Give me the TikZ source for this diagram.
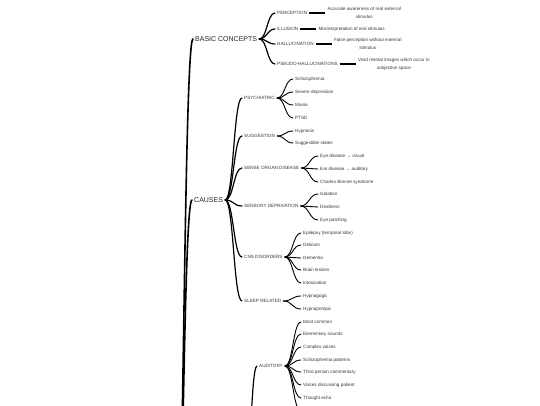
\documentclass[tikz,border=0pt]{standalone}
\usepackage{fontspec}
\setmainfont{Liberation Sans}
\usetikzlibrary{calc, positioning}

\begin{document}
\begin{tikzpicture}[
        x=1pt, y=-1pt,
        topic/.style={
            anchor=west,
            inner xsep=2pt,
            inner ysep=1pt,
            text=black!85,
            font=\fontsize{7}{8}\selectfont
        },
        sub/.style={
            anchor=west,
            inner xsep=2pt,
            inner ysep=1pt,
            text=black!78,
            font=\fontsize{4.6}{8}\selectfont
        },
        desc/.style={sub, align=center},
        brace/.style={to path={
            let \p1=(\tikztostart), \p2=(\tikztotarget) in
            .. controls ({(\x1+\x2)/2},\y1) and ({(\x1+\x2)/2},\y2) .. (\p2) \tikztonodes}
        },
        link/.style={draw=black, line cap=round, brace},
        toplink/.style={link, line width=1.6pt},
        midlink/.style={link, line width=1.2pt},
        leaflink/.style={link, line width=0.9pt},
        bar/.style={draw=black, line width=1.1pt}
    ]

    \useasboundingbox[fill=white] (0,0) rectangle (540,405);

    % Root and hidden parents (below the frame)
    \coordinate (root) at (174,640);
    \coordinate (kinds) at (243,520);

    % Main topics
    \node[topic] (basic) at (193,39) {BASIC CONCEPTS};
    \node[topic] (causes) at (192,200) {CAUSES};

    % Basic concepts
    \node[sub] (perception) at (275,13) {PERCEPTION};
    \node[sub] (illusion) at (275,29) {ILLUSION};
    \node[sub] (halluc) at (275,44) {HALLUCINATION};
    \node[sub] (pseudo) at (275,64) {PSEUDO-HALLUCINATIONS};

    \node[desc, right=16pt of perception] (perceptiondesc) {
        Accurate awareness of real external\\
        stimulus
    };
    \node[desc, right=16pt of illusion] (illusiondesc) {
        Misinterpretation of real stimulus
    };
    \node[desc, right=16pt of halluc] (hallucdesc) {
        False perception without external\\
        stimulus
    };
    \node[desc, right=16pt of pseudo] (pseudodesc) {
        Vivid mental images which occur in\\
        subjective space
    };

    % Causes
    \node[sub] (psych) at (242,98) {PSYCHIATRIC};
    \node[sub] (sugg) at (242,136) {SUGGESTION};
    \node[sub] (sense) at (242,168) {SENSE ORGAN DISEASE};
    \node[sub] (sensdep) at (242,206) {SENSORY DEPRIVATION};
    \node[sub] (cns) at (242,257) {CNS DISORDERS};
    \node[sub] (sleep) at (242,301) {SLEEP RELATED};

    \node[sub] (schizo) at (293,79) {Schizophrenia};
    \node[sub] (sevdep) at (293,92) {Severe depression};
    \node[sub] (mania) at (293,105) {Mania};
    \node[sub] (ptsd) at (293,118) {PTSD};

    \node[sub] (hypnosis) at (293,131) {Hypnosis};
    \node[sub] (suggstates) at (293,143) {Suggestible states};

    \node[sub] (eyedis) at (318,156) {Eye disease → visual};
    \node[sub] (eardis) at (318,169) {Ear disease → auditory};
    \node[sub] (bonnet) at (318,182) {Charles Bonnet syndrome};

    \node[sub] (isolation) at (318,194) {Isolation};
    \node[sub] (deafness) at (318,207) {Deafness};
    \node[sub] (patching) at (318,220) {Eye patching};

    \node[sub] (epilepsy) at (301,233) {Epilepsy (temporal lobe)};
    \node[sub] (delirium) at (301,245) {Delirium};
    \node[sub] (dementia) at (301,258) {Dementia};
    \node[sub] (lesions) at (301,270) {Brain lesions};
    \node[sub] (intox) at (301,283) {Intoxication};

    \node[sub] (hypnagogic) at (301,296) {Hypnagogic};
    \node[sub] (hypnopompic) at (301,309) {Hypnopompic};

    % Auditory
    \node[sub] (auditory) at (257,366) {AUDITORY};

    \node[sub] (common) at (301,322) {Most common};
    \node[sub] (elementary) at (301,334) {Elementary sounds};
    \node[sub] (complex) at (301,347) {Complex voices};
    \node[sub] (schizpat) at (301,360) {Schizophrenia patterns};
    \node[sub] (thirdperson) at (301,372) {Third person commentary};
    \node[sub] (discussing) at (301,385) {Voices discussing patient};
    \node[sub] (echo) at (301,398) {Thought echo};
    \coordinate (audmore) at (301,411);

    % Links
    \draw[toplink] (root) to (basic.west);
    \draw[toplink] (root) to (causes.west);

    \draw[midlink] (basic.east) to (perception.west);
    \draw[midlink] (basic.east) to (illusion.west);
    \draw[midlink] (basic.east) to (halluc.west);
    \draw[midlink] (basic.east) to (pseudo.west);

    \draw[bar] (perception) -- (perceptiondesc);
    \draw[bar] (illusion) -- (illusiondesc);
    \draw[bar] (halluc) -- (hallucdesc);
    \draw[bar] (pseudo) -- (pseudodesc);

    \draw[midlink] (causes.east) to (psych.west);
    \draw[midlink] (causes.east) to (sugg.west);
    \draw[midlink] (causes.east) to (sense.west);
    \draw[midlink] (causes.east) to (sensdep.west);
    \draw[midlink] (causes.east) to (cns.west);
    \draw[midlink] (causes.east) to (sleep.west);

    \draw[leaflink] (psych.east) to (schizo.west);
    \draw[leaflink] (psych.east) to (sevdep.west);
    \draw[leaflink] (psych.east) to (mania.west);
    \draw[leaflink] (psych.east) to (ptsd.west);

    \draw[leaflink] (sugg.east) to (hypnosis.west);
    \draw[leaflink] (sugg.east) to (suggstates.west);

    \draw[leaflink] (sense.east) to (eyedis.west);
    \draw[leaflink] (sense.east) to (eardis.west);
    \draw[leaflink] (sense.east) to (bonnet.west);

    \draw[leaflink] (sensdep.east) to (isolation.west);
    \draw[leaflink] (sensdep.east) to (deafness.west);
    \draw[leaflink] (sensdep.east) to (patching.west);

    \draw[leaflink] (cns.east) to (epilepsy.west);
    \draw[leaflink] (cns.east) to (delirium.west);
    \draw[leaflink] (cns.east) to (dementia.west);
    \draw[leaflink] (cns.east) to (lesions.west);
    \draw[leaflink] (cns.east) to (intox.west);

    \draw[leaflink] (sleep.east) to (hypnagogic.west);
    \draw[leaflink] (sleep.east) to (hypnopompic.west);

    \draw[midlink] (kinds) to (auditory.west);

    \draw[leaflink] (auditory.east) to (common.west);
    \draw[leaflink] (auditory.east) to (elementary.west);
    \draw[leaflink] (auditory.east) to (complex.west);
    \draw[leaflink] (auditory.east) to (schizpat.west);
    \draw[leaflink] (auditory.east) to (thirdperson.west);
    \draw[leaflink] (auditory.east) to (discussing.west);
    \draw[leaflink] (auditory.east) to (echo.west);
    \draw[leaflink] (auditory.east) to (audmore);

\end{tikzpicture}
\end{document}
